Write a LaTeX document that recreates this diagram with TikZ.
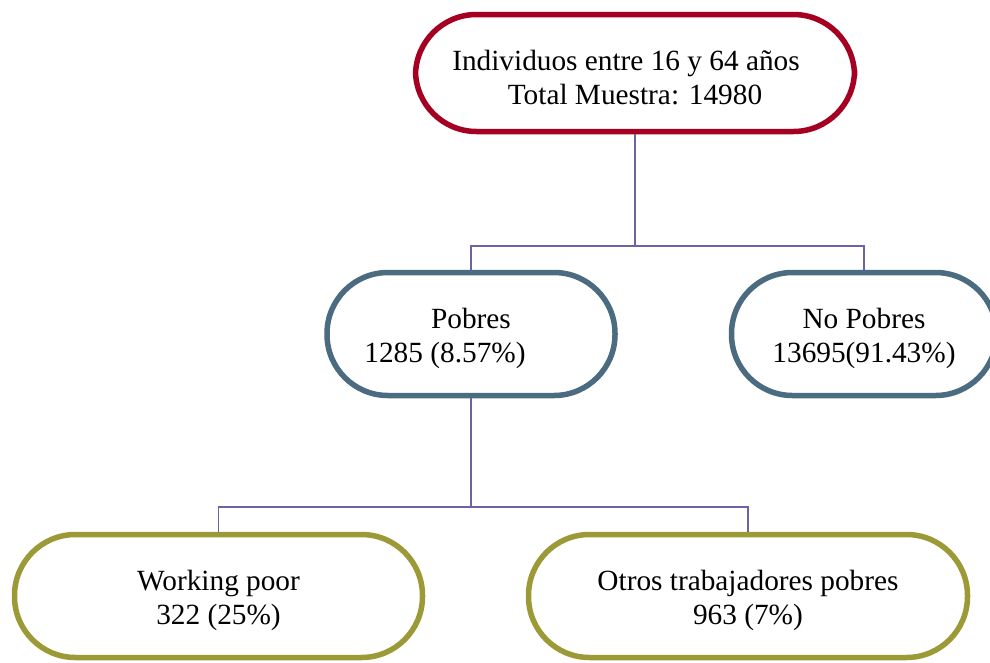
\documentclass[tikz,border=0pt]{standalone}
\usepackage{fontspec}
\setmainfont{Liberation Serif}
\definecolor{topred}{HTML}{A50021}
\definecolor{midblue}{HTML}{4A6B80}
\definecolor{botolive}{HTML}{9C9A36}
\definecolor{linkcol}{HTML}{6A64A0}
\newcommand{\topstrut}{\rule{0pt}{29pt}}
\tikzset{
  pill/.style={draw, line width=5.5pt, rounded corners=61pt, fill=white,
    align=center, inner sep=0pt, minimum height=123pt,
    font=\fontsize{29.3}{34}\selectfont},
  link/.style={draw=linkcol, line width=1.6pt}
}
\begin{document}
\begin{tikzpicture}[x=1pt,y=-1pt]
\clip (0,0) rectangle (990,662);
\fill[white] (0,0) rectangle (990,662);
\node[pill, draw=topred, minimum width=439pt, minimum height=117pt] (top) at (635,73)
  {\topstrut Individuos entre 16 y 64 años\hspace*{18pt}\\Total Muestra: 14980};
\node[pill, draw=midblue, minimum width=288pt] (pobres) at (471,334)
  {\topstrut Pobres\\1285 (8.57\%)\hspace*{52pt}};
\node[pill, draw=midblue, minimum width=265pt] (nopobres) at (864,334)
  {\topstrut No Pobres\\13695(91.43\%)};
\node[pill, draw=botolive, minimum width=408pt] (wp) at (218.5,596)
  {\topstrut Working poor\\322 (25\%)};
\node[pill, draw=botolive, minimum width=439pt] (otros) at (748,596)
  {\topstrut Otros trabajadores pobres\\963 (7\%)};
\coordinate (j1) at (635,246);
\coordinate (j2) at (471,507);
\draw[link] (top.south) -- (j1);
\draw[link] (pobres.north) |- (j1) -| (nopobres.north);
\draw[link] (pobres.south) -- (j2);
\draw[link] (wp.north) |- (j2) -| (otros.north);
\end{tikzpicture}
\end{document}
